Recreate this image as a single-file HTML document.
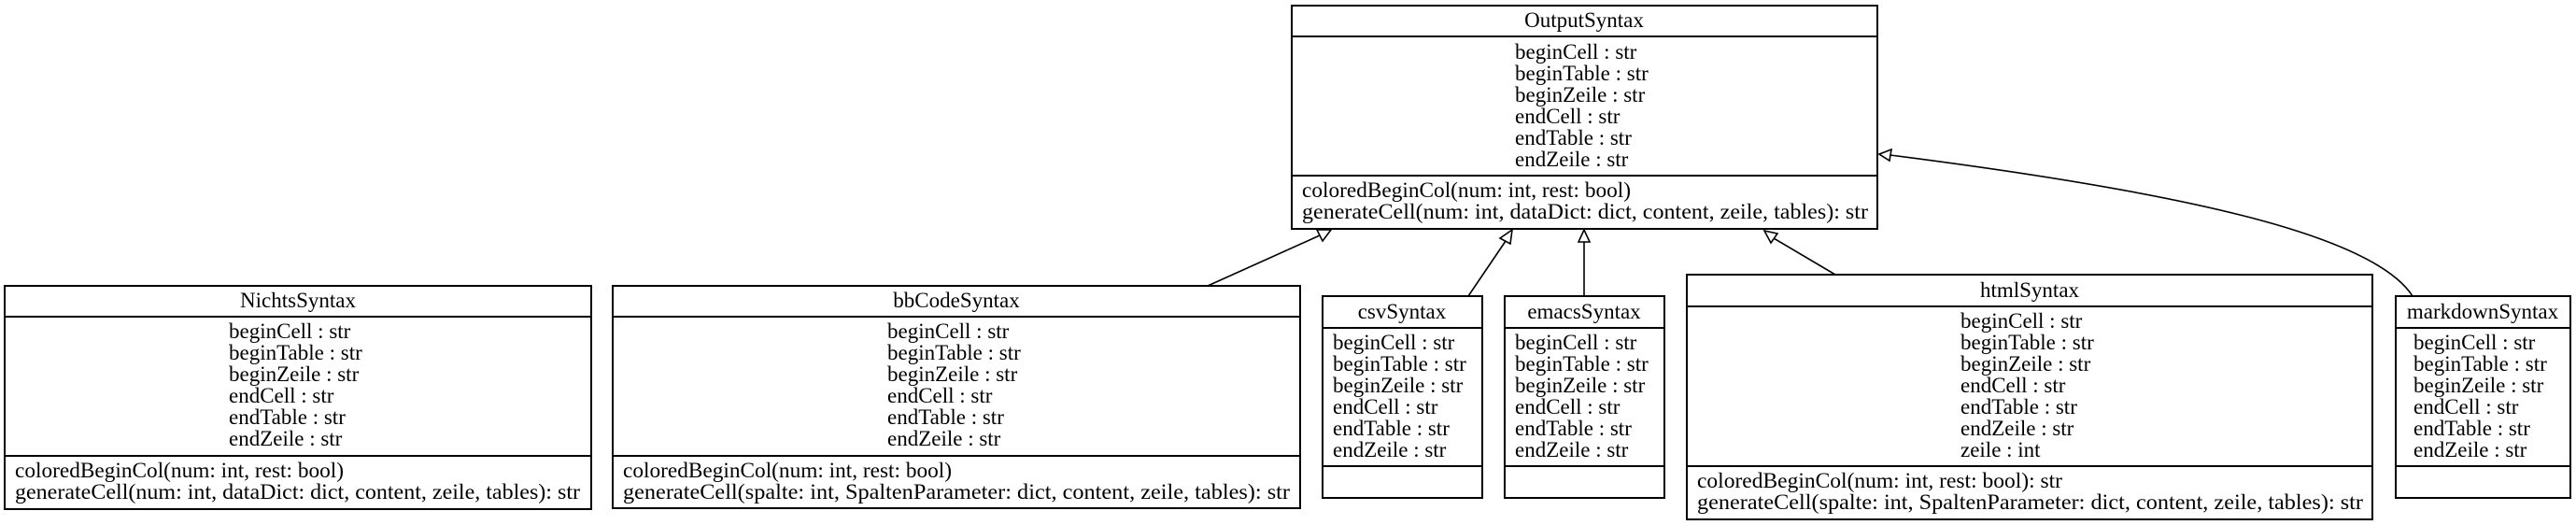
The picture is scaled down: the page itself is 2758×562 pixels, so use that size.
<!DOCTYPE html>
<html><head><meta charset="utf-8"><style>
html,body{margin:0;padding:0;background:#fff;}
svg{display:block;}
text{font-family:"Liberation Serif",serif;font-size:23px;fill:#000;}
.m{text-anchor:middle;}
rect,line.d{stroke:#000;stroke-width:2;fill:none;}
.e{stroke:#000;stroke-width:1.6;fill:none;}
.h{stroke:#000;stroke-width:1.6;fill:#fff;}
</style></head><body>
<svg width="2758" height="562" viewBox="0 0 2758 562" xmlns="http://www.w3.org/2000/svg">
<rect x="0" y="0" width="2758" height="562" style="fill:#fff;stroke:none"/>

<!-- OutputSyntax -->
<rect x="1383" y="6" width="627" height="239"/>
<line class="d" x1="1383" y1="39" x2="2010" y2="39"/>
<line class="d" x1="1383" y1="188" x2="2010" y2="188"/>
<text class="m" x="1696" y="29">OutputSyntax</text>
<text x="1622" y="63">beginCell : str</text>
<text x="1622" y="86">beginTable : str</text>
<text x="1622" y="109">beginZeile : str</text>
<text x="1622" y="132">endCell : str</text>
<text x="1622" y="155">endTable : str</text>
<text x="1622" y="178">endZeile : str</text>
<text x="1394" y="211" textLength="352" lengthAdjust="spacingAndGlyphs">coloredBeginCol(num: int, rest: bool)</text>
<text x="1394" y="234" textLength="606" lengthAdjust="spacingAndGlyphs">generateCell(num: int, dataDict: dict, content, zeile, tables): str</text>

<!-- NichtsSyntax -->
<rect x="5" y="306" width="628" height="239"/>
<line class="d" x1="5" y1="339" x2="633" y2="339"/>
<line class="d" x1="5" y1="488" x2="633" y2="488"/>
<text class="m" x="319" y="329">NichtsSyntax</text>
<text x="245" y="362">beginCell : str</text>
<text x="245" y="385">beginTable : str</text>
<text x="245" y="408">beginZeile : str</text>
<text x="245" y="431">endCell : str</text>
<text x="245" y="454">endTable : str</text>
<text x="245" y="477">endZeile : str</text>
<text x="16" y="511" textLength="352" lengthAdjust="spacingAndGlyphs">coloredBeginCol(num: int, rest: bool)</text>
<text x="16" y="534" textLength="605" lengthAdjust="spacingAndGlyphs">generateCell(num: int, dataDict: dict, content, zeile, tables): str</text>

<!-- bbCodeSyntax -->
<rect x="656" y="306" width="736" height="238"/>
<line class="d" x1="656" y1="339" x2="1392" y2="339"/>
<line class="d" x1="656" y1="488" x2="1392" y2="488"/>
<text class="m" x="1024" y="329">bbCodeSyntax</text>
<text x="950" y="362">beginCell : str</text>
<text x="950" y="385">beginTable : str</text>
<text x="950" y="408">beginZeile : str</text>
<text x="950" y="431">endCell : str</text>
<text x="950" y="454">endTable : str</text>
<text x="950" y="477">endZeile : str</text>
<text x="667" y="511" textLength="352" lengthAdjust="spacingAndGlyphs">coloredBeginCol(num: int, rest: bool)</text>
<text x="667" y="534" textLength="714" lengthAdjust="spacingAndGlyphs">generateCell(spalte: int, SpaltenParameter: dict, content, zeile, tables): str</text>

<!-- csvSyntax -->
<rect x="1416" y="317" width="171" height="216"/>
<line class="d" x1="1416" y1="351" x2="1587" y2="351"/>
<line class="d" x1="1416" y1="499" x2="1587" y2="499"/>
<text class="m" x="1501" y="341">csvSyntax</text>
<text x="1427" y="374">beginCell : str</text>
<text x="1427" y="397">beginTable : str</text>
<text x="1427" y="420">beginZeile : str</text>
<text x="1427" y="443">endCell : str</text>
<text x="1427" y="466">endTable : str</text>
<text x="1427" y="489">endZeile : str</text>

<!-- emacsSyntax -->
<rect x="1611" y="317" width="171" height="216"/>
<line class="d" x1="1611" y1="351" x2="1782" y2="351"/>
<line class="d" x1="1611" y1="499" x2="1782" y2="499"/>
<text class="m" x="1696" y="341">emacsSyntax</text>
<text x="1622" y="374">beginCell : str</text>
<text x="1622" y="397">beginTable : str</text>
<text x="1622" y="420">beginZeile : str</text>
<text x="1622" y="443">endCell : str</text>
<text x="1622" y="466">endTable : str</text>
<text x="1622" y="489">endZeile : str</text>

<!-- htmlSyntax -->
<rect x="1806" y="294" width="734" height="262"/>
<line class="d" x1="1806" y1="328" x2="2540" y2="328"/>
<line class="d" x1="1806" y1="499" x2="2540" y2="499"/>
<text class="m" x="2173" y="318">htmlSyntax</text>
<text x="2099" y="351">beginCell : str</text>
<text x="2099" y="374">beginTable : str</text>
<text x="2099" y="397">beginZeile : str</text>
<text x="2099" y="420">endCell : str</text>
<text x="2099" y="443">endTable : str</text>
<text x="2099" y="466">endZeile : str</text>
<text x="2099" y="489">zeile : int</text>
<text x="1817" y="522" textLength="391" lengthAdjust="spacingAndGlyphs">coloredBeginCol(num: int, rest: bool): str</text>
<text x="1817" y="545" textLength="713" lengthAdjust="spacingAndGlyphs">generateCell(spalte: int, SpaltenParameter: dict, content, zeile, tables): str</text>

<!-- markdownSyntax -->
<rect x="2565" y="317" width="187" height="216"/>
<line class="d" x1="2565" y1="351" x2="2752" y2="351"/>
<line class="d" x1="2565" y1="499" x2="2752" y2="499"/>
<text class="m" x="2658" y="341">markdownSyntax</text>
<text x="2584" y="374">beginCell : str</text>
<text x="2584" y="397">beginTable : str</text>
<text x="2584" y="420">beginZeile : str</text>
<text x="2584" y="443">endCell : str</text>
<text x="2584" y="466">endTable : str</text>
<text x="2584" y="489">endZeile : str</text>

<!-- connectors -->
<line class="e" x1="1293" y1="306" x2="1413" y2="252"/>
<polygon class="h" points="1425,246 1410,246 1416,258"/>

<line class="e" x1="1572" y1="317" x2="1612" y2="258"/>
<polygon class="h" points="1619,246 1606,255 1617,261"/>

<line class="e" x1="1696" y1="317" x2="1696" y2="259"/>
<polygon class="h" points="1696,246 1690,259 1702,259"/>

<line class="e" x1="1965" y1="294" x2="1899" y2="255"/>
<polygon class="h" points="1889,247 1896,260 1903,250"/>

<path class="e" d="M2583,317 C2540,250 2330,205 2024,166"/>
<polygon class="h" points="2012,165 2025,160 2023,172"/>
</svg>
</body></html>
